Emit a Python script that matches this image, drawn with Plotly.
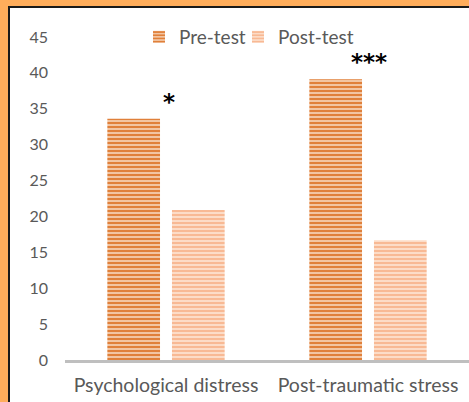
import plotly.graph_objects as go

categories = ["Psychological distress", "Post-traumatic stress"]
pre_test = [33.6, 39.1]
post_test = [20.9, 16.7]
significance = ["*", "***"]
sig_y = [36.0, 41.5]
y_ticks = [0, 5, 10, 15, 20, 25, 30, 35, 40, 45]

W, H = 469, 402
L, R, T, B = 65, 0, 37, 42
pw, ph = W - L - R, H - T - B

def px_x(p):
    return (p - L) / pw

def px_y(p):
    return (H - B - p) / ph

fig = go.Figure()
fig.add_trace(go.Bar(
    name="Pre-test", x=categories, y=pre_test, legend="legend",
    marker=dict(color="#F7D6BC", line=dict(width=0),
                pattern=dict(shape="-", fgcolor="#E0803A", bgcolor="#F7D6BC",
                             size=4, solidity=0.6, fillmode="replace")),
))
fig.add_trace(go.Bar(
    name="Post-test", x=categories, y=post_test, legend="legend2",
    marker=dict(color="#FDE5D4", line=dict(width=0),
                pattern=dict(shape="-", fgcolor="#F8B994", bgcolor="#FDE5D4",
                             size=4, solidity=0.6, fillmode="replace")),
))

for c, s, yv, xs in zip(categories, significance, sig_y, [3, 1]):
    fig.add_annotation(x=c, y=yv, text="<b>" + s + "</b>", showarrow=False, xshift=xs,
                       font=dict(family="DejaVu Sans", size=23, color="#000000"),
                       xanchor="center", yanchor="middle")

# frame: orange paper with white inner panel and black edge
fig.add_shape(type="rect", xref="paper", yref="paper",
              x0=px_x(9), x1=px_x(W + 20), y0=px_y(H + 20), y1=px_y(7),
              fillcolor="white", line=dict(color="#1a1a1a", width=2), layer="below")

leg_common = dict(orientation="h", xanchor="left", y=1.0, yanchor="middle",
                  font=dict(size=19, color="#595959"), bgcolor="rgba(0,0,0,0)",
                  itemwidth=30)

fig.update_layout(
    width=W, height=H,
    margin=dict(l=L, r=R, t=T, b=B, autoexpand=False),
    paper_bgcolor="#FFAD5B",
    plot_bgcolor="rgba(0,0,0,0)",
    barmode="group", bargap=0.36, bargroupgap=0.185,
    font=dict(family="Lato", color="#595959"),
    showlegend=True,
    legend=dict(x=px_x(139), **leg_common),
    legend2=dict(x=px_x(238), **leg_common),
    xaxis=dict(showline=True, linecolor="#BFBFBF", linewidth=3, ticks="",
               tickfont=dict(size=19.5, color="#595959"), showgrid=False,
               ticklabelstandoff=6),
    yaxis=dict(range=[0, 45], tickvals=y_ticks, showgrid=False, zeroline=False,
               showline=False, ticks="", tickfont=dict(size=16, color="#595959"),
               ticklabelstandoff=16),
)

fig.write_html("out.html", config={"displayModeBar": False},
               post_script="document.body.style.margin='0';document.body.style.overflow='hidden';")
